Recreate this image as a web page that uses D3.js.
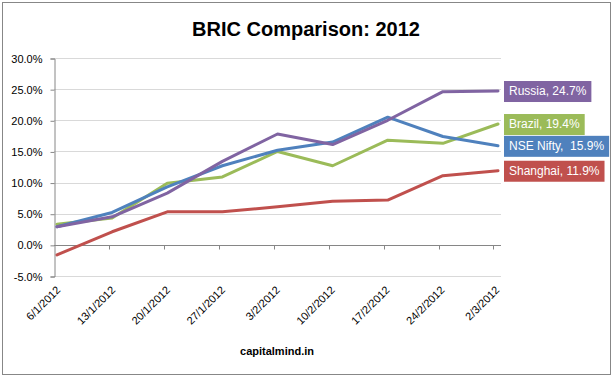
<!doctype html>
<html>
<head>
    <meta charset="utf-8"/>
    <style>
        html, body { margin: 0; padding: 0; background: #fff; }
        svg { display: block; font-family: "Liberation Sans", Arial, sans-serif; }
    </style>
    <script src="https://d3js.org/d3.v7.min.js"></script>
</head>
<body>
<svg width="613" height="376"></svg>
<script>
    // Weekly dates and cumulative returns (%)
    var dates = ["6/1/2012", "13/1/2012", "20/1/2012", "27/1/2012", "3/2/2012",
                 "10/2/2012", "17/2/2012", "24/2/2012", "2/3/2012"];
    var nifty    = [2.9, 5.2, 9.3, 12.7, 15.2, 16.5, 20.5, 17.4, 15.9];
    var brazil   = [3.3, 4.3, 9.9, 10.9, 15.0, 12.7, 16.8, 16.3, 19.4];
    var russia   = [2.9, 4.5, 8.3, 13.4, 17.8, 16.1, 20.0, 24.6, 24.7];
    var shanghai = [-1.6, 2.1, 5.3, 5.3, 6.1, 7.0, 7.2, 11.1, 11.9];
    var yTicks = [-5, 0, 5, 10, 15, 20, 25, 30];

    var series = [
        {name: "Brazil", values: brazil, color: "#9BBB59", label: "Brazil, 19.4%"},
        {name: "NSE Nifty", values: nifty, color: "#4F81BD", label: "NSE Nifty,  15.9%"},
        {name: "Shanghai", values: shanghai, color: "#C0504D", label: "Shanghai, 11.9%"},
        {name: "Russia", values: russia, color: "#8064A2", label: "Russia, 24.7%"}
    ];

    var svg = d3.select("svg");

    // outer chart border
    svg.append("rect")
        .attr("x", 2.5).attr("y", 2.5)
        .attr("width", 608).attr("height", 372)
        .attr("fill", "#fff").attr("stroke", "#878787");

    svg.append("text")
        .attr("x", 306).attr("y", 36)
        .attr("text-anchor", "middle")
        .attr("font-size", 20).attr("font-weight", "bold")
        .text("BRIC Comparison: 2012");

    var plotLeft = 54, plotRight = 501;
    var y = d3.scaleLinear().domain([-5, 30]).range([276, 58]);
    var x = d3.scalePoint().domain(dates).range([57, 498]);
    var xTick = d3.scalePoint().domain(dates).range([54.4, 493.4]);

    // gridlines
    svg.append("g").selectAll("line")
        .data(yTicks.filter(function(d) { return d !== 0; }))
        .enter().append("line")
        .attr("x1", plotLeft).attr("x2", plotRight)
        .attr("y1", function(d) { return Math.round(y(d)) + 0.5; })
        .attr("y2", function(d) { return Math.round(y(d)) + 0.5; })
        .attr("stroke", "#d9d9d9");

    // y axis
    var yAxis = svg.append("g")
        .attr("transform", "translate(" + (plotLeft + 0.5) + ",0.5)")
        .call(d3.axisLeft(y).tickValues(yTicks).tickSize(4).tickPadding(8)
            .tickFormat(function(d) { return d.toFixed(1) + "%"; }));
    yAxis.select(".domain").attr("stroke", "#868686");
    yAxis.selectAll(".tick line").attr("stroke", "#868686");
    yAxis.selectAll(".tick text").attr("font-size", 11)
        .attr("font-family", "Liberation Sans, Arial, sans-serif").attr("fill", "#000");

    // x axis at zero
    var zeroY = Math.round(y(0)) + 0.5;
    svg.append("line")
        .attr("x1", plotLeft).attr("x2", plotRight)
        .attr("y1", zeroY).attr("y2", zeroY)
        .attr("stroke", "#868686");
    svg.append("g").selectAll("line")
        .data(dates.slice(1))
        .enter().append("line")
        .attr("x1", function(d) { return Math.round(xTick(d)) + 0.5; })
        .attr("x2", function(d) { return Math.round(xTick(d)) + 0.5; })
        .attr("y1", zeroY).attr("y2", zeroY + 4)
        .attr("stroke", "#868686");

    // x tick labels, rotated
    svg.append("g").selectAll("text")
        .data(dates)
        .enter().append("text")
        .attr("transform", function(d) {
            return "translate(" + (xTick(d) + 4) + ",288) rotate(-45)";
        })
        .attr("text-anchor", "end")
        .attr("dy", "0.35em")
        .attr("font-size", 11)
        .text(function(d) { return d; });

    // lines
    var line = d3.line()
        .x(function(d, i) { return x(dates[i]); })
        .y(function(d) { return y(d); });

    svg.append("g").selectAll("path")
        .data(series)
        .enter().append("path")
        .attr("d", function(s) { return line(s.values); })
        .attr("fill", "none")
        .attr("stroke", function(s) { return s.color; })
        .attr("stroke-width", 3)
        .attr("stroke-linejoin", "round")
        .attr("stroke-linecap", "round");

    // end labels
    var labels = svg.append("g").selectAll("g")
        .data(series)
        .enter().append("g")
        .attr("transform", function(s) {
            return "translate(504," + y(s.values[s.values.length - 1]) + ")";
        });
    labels.append("rect")
        .attr("fill", function(s) { return s.color; })
        .attr("y", -10).attr("height", 21);
    labels.append("text")
        .attr("x", 5).attr("dy", "0.35em")
        .attr("font-size", 12)
        .attr("fill", "#fff")
        .text(function(s) { return s.label; })
        .attr("xml:space", "preserve");
    labels.each(function() {
        var g = d3.select(this);
        var w = g.select("text").node().getComputedTextLength();
        g.select("rect").attr("width", w + 10);
    });

    svg.append("text")
        .attr("x", 277).attr("y", 355)
        .attr("text-anchor", "middle")
        .attr("font-size", 11).attr("font-weight", "bold")
        .text("capitalmind.in");
</script>
</body>
</html>
